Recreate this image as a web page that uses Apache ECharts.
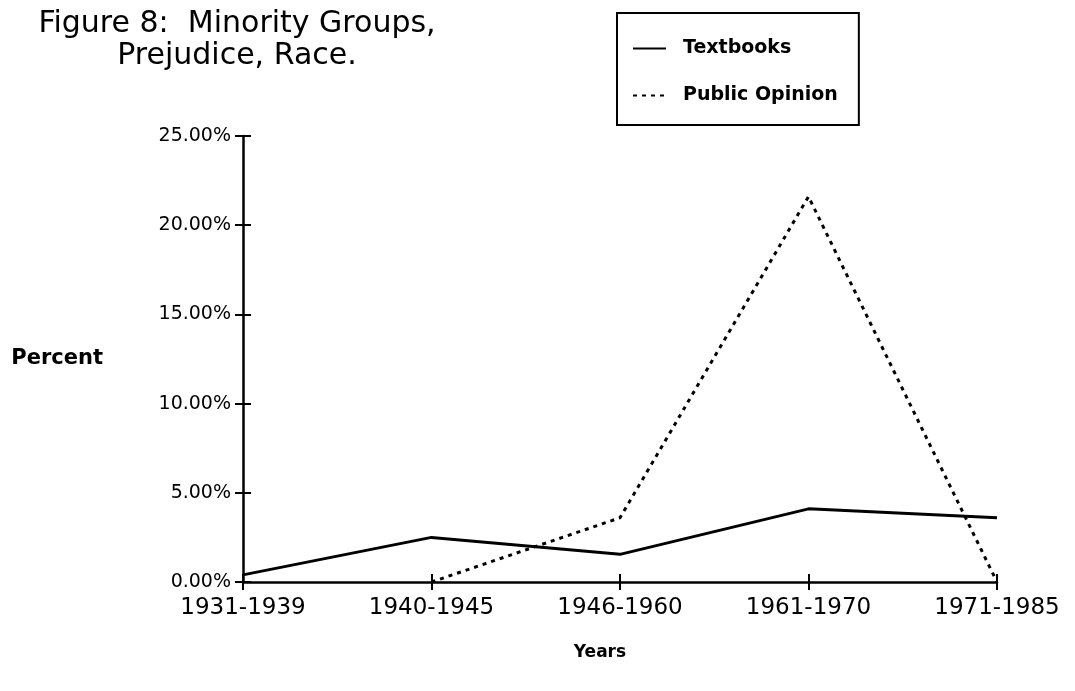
<!DOCTYPE html>
<html>
<head>
<meta charset="utf-8">
<script src="https://cdn.jsdelivr.net/npm/echarts@6/dist/echarts.min.js"></script>
<style>
html,body{margin:0;padding:0;background:#fff;}
#chart{width:1075px;height:691px;}
</style>
</head>
<body>
<div id="chart"></div>
<script>
const categories = ['1931-1939', '1940-1945', '1946-1960', '1961-1970', '1971-1985'];
const textbooks = [0.4, 2.5, 1.55, 4.1, 3.6];
const publicOpinion = [null, 0, 3.6, 21.6, 0];
const yTicks = [0, 5, 10, 15, 20, 25];

const chart = echarts.init(document.getElementById('chart'));
const FONT = 'DejaVu Sans';
chart.setOption({
  backgroundColor: '#fff',
  animation: false,
  title: {
    text: 'Figure 8:  Minority Groups,\nPrejudice, Race.',
    left: 232,
    top: 3,
    textAlign: 'center',
    textStyle: { fontFamily: FONT, fontSize: 30, fontWeight: 'normal', color: '#000', lineHeight: 32 }
  },
  legend: {
    orient: 'vertical',
    left: 617,
    top: 13,
    padding: [26, 21, 20, 15],
    itemGap: 28,
    itemWidth: 33,
    itemHeight: 14,
    borderColor: '#000',
    borderWidth: 2,
    itemStyle: { color: 'rgba(0,0,0,0)', borderWidth: 0 },
    textStyle: { fontFamily: FONT, fontSize: 19, fontWeight: 'bold', color: '#000', padding: [0, 0, 0, 12] },
    data: ['Textbooks', 'Public Opinion']
  },
  grid: { left: 243, right: 78, top: 136, bottom: 109, outerBoundsMode: 'none', containLabel: false },
  xAxis: [
    {
      type: 'category',
      data: categories,
      boundaryGap: false,
      name: 'Years',
      nameLocation: 'middle',
      nameGap: 62,
      nameTextStyle: { fontFamily: FONT, fontSize: 17, fontWeight: 'bold', color: '#000', padding: [0, 40, 0, 0] },
      axisLine: { lineStyle: { color: '#000', width: 2.5 } },
      axisTick: { alignWithLabel: true, length: 8, inside: false, lineStyle: { color: '#000', width: 2 } },
      axisLabel: { fontFamily: FONT, fontSize: 23, color: '#000', margin: 15 },
      splitLine: { show: false }
    },
    {
      type: 'category',
      data: categories,
      boundaryGap: false,
      position: 'bottom',
      axisLine: { show: false },
      axisTick: { show: true, alignWithLabel: true, length: 8, inside: true, lineStyle: { color: '#000', width: 2 } },
      axisLabel: { show: false },
      splitLine: { show: false }
    }
  ],
  yAxis: [
    {
      type: 'value',
      min: 0,
      max: 25,
      interval: 5,
      name: 'Percent',
      nameLocation: 'middle',
      nameRotate: 0,
      nameGap: 140,
      nameTextStyle: { fontFamily: FONT, fontSize: 21, fontWeight: 'bold', color: '#000' },
      axisLine: { show: true, lineStyle: { color: '#000', width: 2.5 } },
      axisTick: { show: true, length: 8, lineStyle: { color: '#000', width: 2 } },
      axisLabel: {
        fontFamily: FONT, fontSize: 19, color: '#000', margin: 12,
        formatter: v => yTicks.includes(v) ? v.toFixed(2) + '%' : ''
      },
      splitLine: { show: false }
    },
    {
      type: 'value',
      min: 0,
      max: 25,
      interval: 5,
      position: 'left',
      axisLine: { show: false },
      axisTick: { show: true, inside: true, length: 8, lineStyle: { color: '#000', width: 2 } },
      axisLabel: { show: false },
      splitLine: { show: false }
    }
  ],
  series: [
    {
      name: 'Textbooks',
      type: 'line',
      data: textbooks,
      symbol: 'none',
      connectNulls: false,
      lineStyle: { color: '#000', width: 3, type: 'solid' },
      itemStyle: { color: '#000' }
    },
    {
      name: 'Public Opinion',
      type: 'line',
      data: publicOpinion,
      symbol: 'none',
      connectNulls: false,
      lineStyle: { color: '#000', width: 3, type: [4, 5] },
      itemStyle: { color: '#000' }
    }
  ]
});
</script>
</body>
</html>
